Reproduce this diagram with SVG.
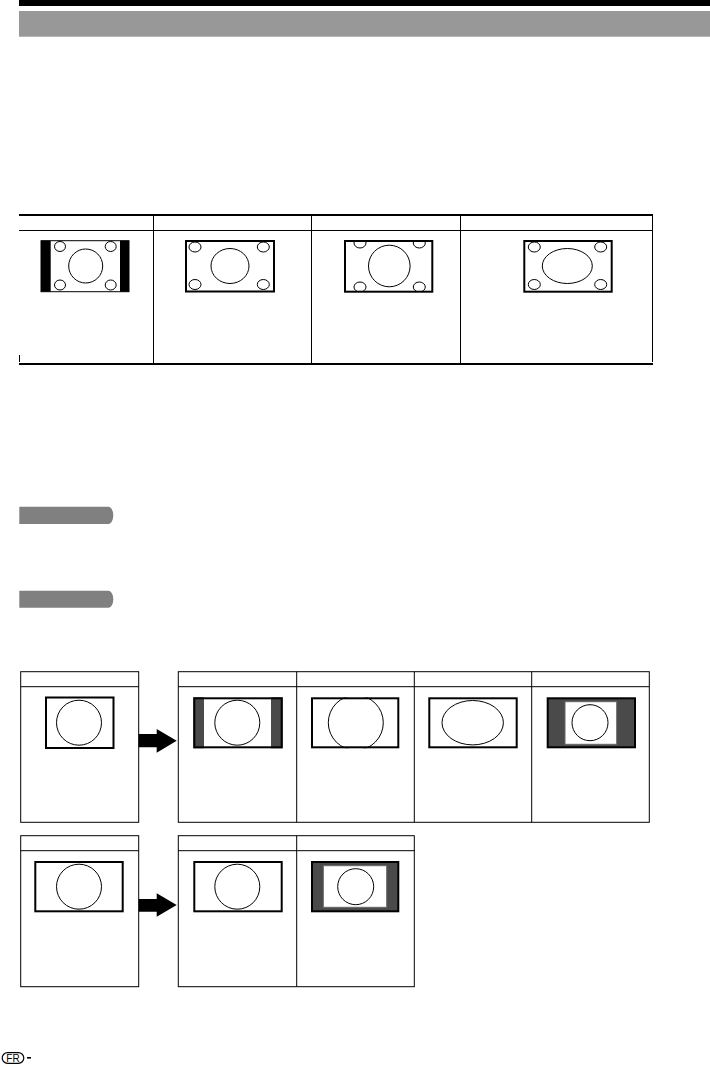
<svg xmlns="http://www.w3.org/2000/svg" width="710" height="1067" viewBox="0 0 710 1067">
<style>
.ln{stroke:#000;stroke-width:1;fill:none}
.thk{stroke:#000;stroke-width:2;fill:none}
.frame{fill:#fff;stroke:#000;stroke-width:2}
.c{fill:none;stroke:#000;stroke-width:1}
.dk{fill:#4a4a4a}
.pill{fill:#808080}
</style>
<defs>
<clipPath id="cp3"><rect x="345" y="241" width="87.3" height="50.7"/></clipPath>
<clipPath id="cpB"><rect x="311" y="697.3" width="88.3" height="51"/></clipPath>
<clipPath id="cp1"><rect x="41" y="240.7" width="88" height="51"/></clipPath>
<clipPath id="cp2"><rect x="186" y="240.7" width="88" height="51"/></clipPath>
<clipPath id="cp4"><rect x="524.3" y="241" width="87.4" height="50.7"/></clipPath>
</defs>
<g id="header">
<rect x="19" y="0" width="691" height="6" fill="#000"/>
<rect x="19" y="11" width="691" height="25.7" fill="#989898"/>
</g>
<g id="table1">
<line class="thk" x1="19" y1="215" x2="653" y2="215"/>
<line class="ln" x1="19" y1="230.5" x2="652" y2="230.5"/>
<line class="thk" x1="19" y1="364" x2="653" y2="364"/>
<line class="ln" x1="153.5" y1="215" x2="153.5" y2="364"/>
<line class="ln" x1="311.5" y1="215" x2="311.5" y2="364"/>
<line class="ln" x1="460.5" y1="215" x2="460.5" y2="364"/>
<line class="ln" x1="652.5" y1="215" x2="652.5" y2="362"/>
<line class="ln" x1="19.5" y1="355" x2="19.5" y2="362"/>
</g>
<g id="pic1">
<rect x="41" y="240.7" width="88" height="51" fill="#fff"/>
<rect x="41" y="240.7" width="9.7" height="51" fill="#000"/>
<rect x="120" y="240.7" width="9" height="51" fill="#000"/>
<g clip-path="url(#cp1)">
<circle class="c" cx="85.7" cy="266" r="17"/>
<ellipse class="c" cx="60" cy="246.5" rx="5.5" ry="5"/>
<ellipse class="c" cx="110.7" cy="246.5" rx="5.5" ry="5"/>
<ellipse class="c" cx="60" cy="285" rx="5.5" ry="5"/>
<ellipse class="c" cx="110.7" cy="285" rx="5.5" ry="5"/>
</g>
<rect x="41" y="240.7" width="88" height="51" fill="none" stroke="#000" stroke-width="1"/>
</g>
<g id="pic2">
<rect class="frame" x="186" y="241" width="88" height="50.5"/>
<g clip-path="url(#cp2)">
<ellipse class="c" cx="230" cy="266" rx="19" ry="17.5"/>
<ellipse class="c" cx="195" cy="247" rx="6" ry="5"/>
<ellipse class="c" cx="263.3" cy="247" rx="6" ry="5"/>
<ellipse class="c" cx="195" cy="284.5" rx="6" ry="5"/>
<ellipse class="c" cx="263.3" cy="284.5" rx="6" ry="5"/>
</g>
</g>
<g id="pic3">
<rect class="frame" x="345" y="241" width="87.3" height="50.7"/>
<g clip-path="url(#cp3)">
<circle class="c" cx="389.3" cy="266" r="20.8"/>
<ellipse class="c" cx="360" cy="243" rx="6" ry="5"/>
<ellipse class="c" cx="419.3" cy="243" rx="6" ry="5"/>
<ellipse class="c" cx="360" cy="287" rx="6" ry="5"/>
<ellipse class="c" cx="419.3" cy="287" rx="6" ry="5"/>
</g>
</g>
<g id="pic4">
<rect class="frame" x="524.3" y="241" width="87.4" height="50.7"/>
<g clip-path="url(#cp4)">
<ellipse class="c" cx="567.3" cy="266" rx="25" ry="17.5"/>
<ellipse class="c" cx="534.3" cy="247" rx="6" ry="5"/>
<ellipse class="c" cx="600.7" cy="247" rx="6" ry="5"/>
<ellipse class="c" cx="534.3" cy="284.5" rx="6" ry="5"/>
<ellipse class="c" cx="600.7" cy="284.5" rx="6" ry="5"/>
</g>
</g>
<g id="pill1"><path class="pill" d="M19.3 506.7 H108 A5 8.7 0 0 1 113.3 515.3 A5 8.7 0 0 1 108 524 H19.3 Z"/></g>
<g id="pill2"><path class="pill" d="M19.3 590.7 H108 A5 8.5 0 0 1 113.3 599.2 A5 8.5 0 0 1 108 607.7 H19.3 Z"/></g>
<g id="table2src">
<rect class="ln" x="20.7" y="671.7" width="118" height="150.6"/>
<line class="ln" x1="20.7" y1="686.7" x2="138.7" y2="686.7"/>
<rect class="frame" x="46" y="697.5" width="67.5" height="50.5"/>
<circle class="c" cx="79" cy="722.7" r="22.5"/>
</g>
<g id="table2dst">
<rect class="ln" x="178.3" y="671.7" width="471" height="150.6"/>
<line class="ln" x1="178.3" y1="686.7" x2="649.3" y2="686.7"/>
<line class="ln" x1="296.7" y1="671.7" x2="296.7" y2="822.3"/>
<line class="ln" x1="414.3" y1="671.7" x2="414.3" y2="822.3"/>
<line class="ln" x1="531.7" y1="671.7" x2="531.7" y2="822.3"/>
</g>
<g id="picA">
<rect x="193.3" y="697.3" width="89.4" height="51" fill="#fff"/>
<rect class="dk" x="193.3" y="697.3" width="10.7" height="51"/>
<rect class="dk" x="271" y="697.3" width="11.7" height="51"/>
<rect x="194.3" y="698.3" width="87.4" height="49" fill="none" stroke="#000" stroke-width="2"/>
<circle class="c" cx="237.3" cy="722.7" r="22.5"/>
</g>
<g id="picB">
<rect class="frame" x="312" y="698.3" width="86.3" height="49"/>
<g clip-path="url(#cpB)"><circle class="c" cx="355.8" cy="722.7" r="27.5"/></g>
</g>
<g id="picC">
<rect class="frame" x="429.3" y="698.3" width="87.4" height="49"/>
<ellipse class="c" cx="472.7" cy="722.7" rx="30.7" ry="22.2"/>
</g>
<g id="picD">
<rect class="dk" x="547.7" y="698.3" width="87.3" height="49" stroke="#000" stroke-width="2"/>
<rect x="565" y="701.7" width="51.7" height="42.6" fill="#fff" stroke="#666" stroke-width="1"/>
<circle class="c" cx="590" cy="722.7" r="18"/>
</g>
<g id="table3src">
<rect class="ln" x="20.7" y="835.7" width="118" height="151"/>
<line class="ln" x1="20.7" y1="850.7" x2="138.7" y2="850.7"/>
<rect class="frame" x="35.3" y="862" width="87.4" height="49.3"/>
<circle class="c" cx="79" cy="886.7" r="22.5"/>
</g>
<g id="table3dst">
<rect class="ln" x="178.3" y="835.7" width="236" height="151"/>
<line class="ln" x1="178.3" y1="850.7" x2="414.3" y2="850.7"/>
<line class="ln" x1="296.7" y1="835.7" x2="296.7" y2="986.7"/>
</g>
<g id="picE">
<rect class="frame" x="194.3" y="862" width="87.4" height="49.3"/>
<circle class="c" cx="237.3" cy="886.7" r="22.5"/>
</g>
<g id="picF">
<rect class="dk" x="312" y="862" width="86.3" height="49.3" stroke="#000" stroke-width="2"/>
<rect x="323.3" y="865.7" width="63.4" height="41.6" fill="#fff" stroke="#666" stroke-width="1"/>
<circle class="c" cx="355.7" cy="886.7" r="18"/>
</g>
<g id="connectors">
<polygon points="138.7,734 156.7,734 156.7,729 176.7,740.7 156.7,752.7 156.7,747.3 138.7,747.3" fill="#000"/>
<polygon points="138.7,899 156.7,899 156.7,893.3 176.7,905 156.7,916.7 156.7,911.7 138.7,911.7" fill="#000"/>
</g>
<g id="footer">
<rect x="2.2" y="1052.7" width="21.6" height="10.6" rx="5.3" fill="none" stroke="#000" stroke-width="1.2"/>
<text x="13" y="1061.8" font-family="Liberation Sans, Arial, sans-serif" font-size="10" text-anchor="middle">FR</text>
<rect x="27" y="1057" width="4" height="1.6" fill="#000"/>
</g>
</svg>
